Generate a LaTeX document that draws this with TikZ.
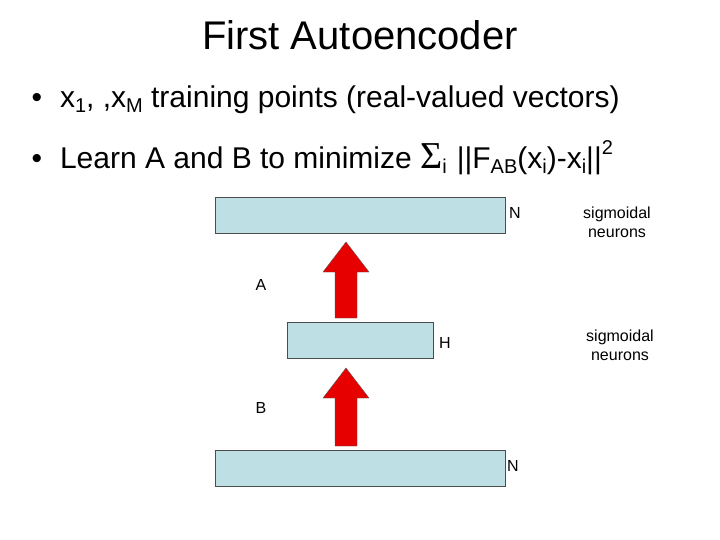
\documentclass[tikz,border=0pt]{standalone}
\usepackage{fontspec}
\setmainfont{Liberation Sans}
\newfontfamily\serifsym{Liberation Serif}
\usetikzlibrary{positioning}
\definecolor{boxblue}{RGB}{190,224,228}
\definecolor{arrred}{RGB}{230,0,0}
\tikzset{
	layer/.style={draw=gray!60!black, fill=boxblue, minimum height=36pt, inner sep=0pt},
	lbl/.style={font=\fontsize{16}{18}\selectfont},
	note/.style={font=\fontsize{16}{19}\selectfont, align=center},
	bullet/.style={anchor=west, font=\fontsize{30}{32}\selectfont},
}
\newcommand{\sub}[1]{\raisebox{-0.3ex}{\fontsize{20}{22}\selectfont #1}}
\newcommand{\sups}[1]{\raisebox{0.9ex}{\fontsize{20}{22}\selectfont #1}}
\newcommand{\uparr}[2]{% bottom y, top y, at x=346
	\filldraw[fill=arrred, draw=gray!70!black] (335,#1) -- (357,#1) -- (357,#2+30) -- (369,#2+30) -- (346,#2) -- (323,#2+30) -- (335,#2+30) -- cycle;}
\begin{document}
\begin{tikzpicture}[x=1pt,y=-1pt]
	\useasboundingbox (0,0) rectangle (720,540);
	\node (title) at (360,35) {\fontsize{40}{42}\selectfont First Autoencoder};
	\node[bullet] (b1) at (28,100) {•\hspace{18pt}x\sub{1}, ,x\sub{M} training points (real-valued vectors)};
	\node[bullet] (b2) at (28,158) {•\hspace{18pt}Learn A and B to minimize {\serifsym\fontsize{38}{38}\selectfont Σ}\sub{i}\hspace{10pt}||F\sub{AB}(x\sub{i})-x\sub{i}||\sups{2}};
	% layers
	\node[layer, minimum width=290pt] (top) at (360,215) {};
	\node[layer, minimum width=146pt] (mid) at (360,340) {};
	\node[layer, minimum width=290pt] (bot) at (360,468) {};
	\node[lbl] (n1) at (515,213) {N};
	\node[lbl] (h) at (445,343) {H};
	\node[lbl] (n2) at (513,466) {N};
	\node[note] (s1) at (617,222) {sigmoidal\\neurons};
	\node[note] (s2) at (620,345) {sigmoidal\\neurons};
	\node[lbl] (a) at (261,285) {A};
	\node[lbl] (b) at (261,408) {B};
	% weights
	\uparr{318}{242}
	\uparr{446}{368}
\end{tikzpicture}
\end{document}
